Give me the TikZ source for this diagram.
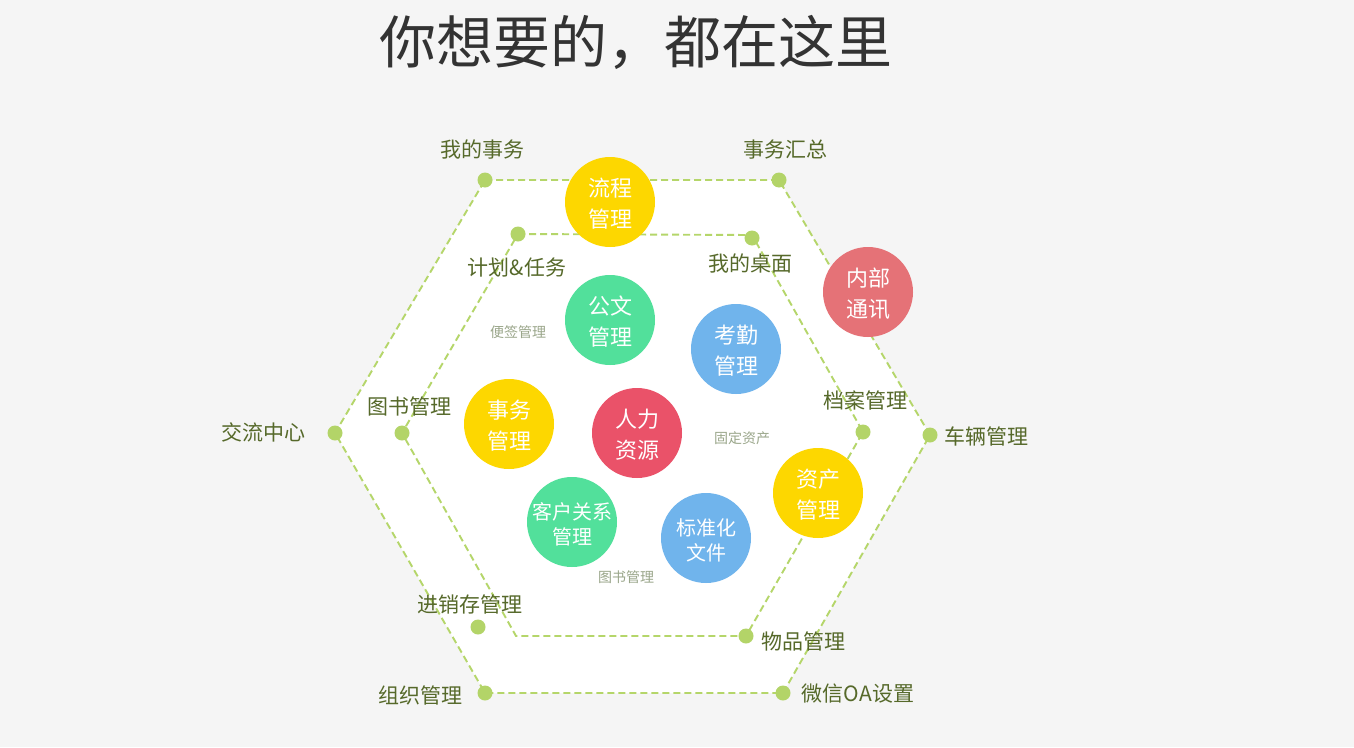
\documentclass[tikz,border=0pt]{standalone}
\usepackage{fontspec}
\setmainfont{Noto Sans CJK SC}
\definecolor{bg}{HTML}{F5F5F5}
\definecolor{linegreen}{HTML}{B5D66A}
\definecolor{dotgreen}{HTML}{B3D468}
\definecolor{labelc}{HTML}{56692A}
\definecolor{smallc}{HTML}{9AA68A}
\definecolor{titlec}{HTML}{333333}
\definecolor{cyellow}{HTML}{FDD700}
\definecolor{cgreen}{HTML}{52E09B}
\definecolor{cblue}{HTML}{70B4EC}
\definecolor{cred}{HTML}{EA5269}
\definecolor{cpink}{HTML}{E57277}
\tikzset{
  hexline/.style={draw=linegreen, line width=1.9pt, dash pattern=on 7pt off 4pt},
  dotnode/.style={circle, fill=dotgreen, minimum size=15pt, inner sep=0pt},
  bubble/.style={circle, minimum size=90pt, inner sep=0pt},
  btext/.style={text=white, align=center, inner sep=0pt, font=\fontsize{22}{31}\selectfont, yshift=-2pt},
  btextsm/.style={btext, font=\fontsize{20}{25}\selectfont},
  lbl/.style={text=labelc, font=\fontsize{21}{24}\selectfont, inner sep=0pt},
  small/.style={text=smallc, font=\fontsize{14}{16}\selectfont, inner sep=0pt},
  title/.style={text=titlec, font=\fontsize{57}{60}\selectfont, inner sep=0pt}
}
\begin{document}
\begin{tikzpicture}[x=1pt,y=-1pt]
\fill[bg] (0,0) rectangle (1354,747);
\useasboundingbox (0,0) rectangle (1354,747);
% outer hexagon points
\coordinate (o1) at (485,180);
\coordinate (o2) at (779,180);
\coordinate (o3) at (930,435);
\coordinate (o4) at (783,693);
\coordinate (o5) at (485,693);
\coordinate (o6) at (335,433);
% inner hexagon points
\coordinate (i1) at (518,234);
\coordinate (i2) at (752,235);
\coordinate (i3) at (863,432);
\coordinate (i4) at (746,636);
\coordinate (i5) at (516,636);
\coordinate (i6) at (402,433);
\fill[white] (o1) -- (o2) -- (o3) -- (o4) -- (o5) -- (o6) -- cycle;
\draw[hexline] (o1) -- (o2) -- (o3) -- (o4) -- (o5) -- (o6) -- cycle;
\draw[hexline] (i1) -- (i2) -- (i3) -- (i4) -- (i5) -- (i6) -- cycle;
% dots
\node[dotnode] (d1) at (o1) {};
\node[dotnode] (d2) at (o2) {};
\node[dotnode] (d3) at (o3) {};
\node[dotnode] (d4) at (o4) {};
\node[dotnode] (d5) at (o5) {};
\node[dotnode] (d6) at (o6) {};
\node[dotnode] (e1) at (i1) {};
\node[dotnode] (e2) at (752,238) {};
\node[dotnode] (e3) at (i3) {};
\node[dotnode] (e4) at (i4) {};
\node[dotnode] (e6) at (i6) {};
\node[dotnode] (jxc) at (478,627) {};
% bubbles
\node[bubble, fill=cyellow] (lc) at (610,202) {};
\node[bubble, fill=cgreen] (gw) at (610,320) {};
\node[bubble, fill=cblue] (kq) at (736,349) {};
\node[bubble, fill=cpink] (nb) at (868,292) {};
\node[bubble, fill=cred] (rl) at (637,433) {};
\node[bubble, fill=cyellow] (sw) at (509,424) {};
\node[bubble, fill=cgreen] (kh) at (572,522) {};
\node[bubble, fill=cblue] (bz) at (706,538) {};
\node[bubble, fill=cyellow] (zc) at (818,493) {};
\node[btext] (lct) at (lc) {流程\\管理};
\node[btext] (gwt) at (gw) {公文\\管理};
\node[btext] (kqt) at (kq) {考勤\\管理};
\node[btext] (nbt) at (nb) {内部\\通讯};
\node[btext] (rlt) at (rl) {人力\\资源};
\node[btext] (swt) at (sw) {事务\\管理};
\node[btextsm] (kht) at (kh) {客户关系\\管理};
\node[btextsm] (bzt) at (bz) {标准化\\文件};
\node[btext] (zct) at (zc) {资产\\管理};
% labels
\node[lbl] (t1) at (482,150) {我的事务};
\node[lbl] (t2) at (785,150) {事务汇总};
\node[lbl] (t3) at (517,268) {计划\&任务};
\node[lbl] (t4) at (750,264) {我的桌面};
\node[lbl] (t5) at (263,432) {交流中心};
\node[lbl] (t6) at (409,406) {图书管理};
\node[lbl] (t7) at (865,400) {档案管理};
\node[lbl] (t8) at (986,436) {车辆管理};
\node[lbl] (t9) at (470,604) {进销存管理};
\node[lbl] (t10) at (803,641) {物品管理};
\node[lbl] (t11) at (420,695) {组织管理};
\node[lbl] (t12) at (858,694) {微信OA设置};
\node[small] (s1) at (518,332) {便签管理};
\node[small] (s2) at (742,438) {固定资产};
\node[small] (s3) at (626,577) {图书管理};
\node[title] (tt) at (636,42) {你想要的，都在这里};
\end{tikzpicture}
\end{document}
